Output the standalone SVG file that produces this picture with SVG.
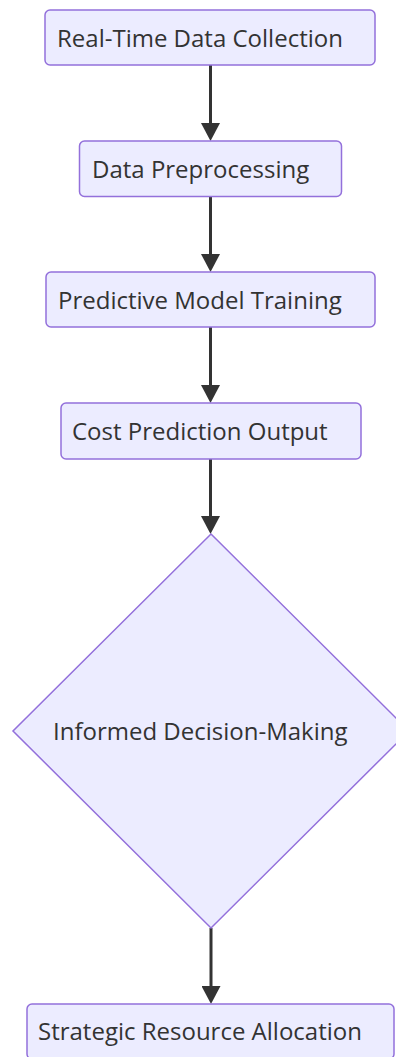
<svg xmlns="http://www.w3.org/2000/svg" width="396" height="1057" viewBox="0 0 396 1057">
<style>
.node{fill:#ECECFF;stroke:#9370DB;stroke-width:1.5}
.lbl{font-family:"Open Sans","Noto Sans",sans-serif;font-size:24px;fill:#333}
.edge{stroke:#333;stroke-width:3;fill:none}
</style>
<defs>
<marker id="arr" markerUnits="userSpaceOnUse" viewBox="0 0 18 19" refX="12" refY="9.5" markerWidth="18" markerHeight="19" orient="auto">
<path d="M0,0 L18,9.5 L0,19 z" fill="#333"/>
</marker>
</defs>
<rect width="396" height="1057" fill="#fff"/>
<g id="edges">
<path class="edge" d="M210.5,65 L210.5,135" marker-end="url(#arr)"/>
<path class="edge" d="M210.5,196.5 L210.5,266" marker-end="url(#arr)"/>
<path class="edge" d="M210.5,327 L210.5,397" marker-end="url(#arr)"/>
<path class="edge" d="M210.5,459 L210.5,528" marker-end="url(#arr)"/>
<path class="edge" d="M211,928 L211,998" marker-end="url(#arr)"/>
</g>
<g id="n1">
<rect class="node" x="45" y="10" width="330" height="55" rx="5"/>
<text class="lbl" x="57" y="46.5">Real-Time Data Collection</text>
</g>
<g id="n2">
<rect class="node" x="79.5" y="141" width="262" height="55.5" rx="5"/>
<text class="lbl" x="92" y="178">Data Preprocessing</text>
</g>
<g id="n3">
<rect class="node" x="46" y="272" width="329" height="55" rx="5"/>
<text class="lbl" x="58" y="309">Predictive Model Training</text>
</g>
<g id="n4">
<rect class="node" x="61" y="403" width="300" height="56" rx="5"/>
<text class="lbl" x="72" y="440">Cost Prediction Output</text>
</g>
<g id="n5">
<polygon class="node" points="211,534 409,731 211,928 13,731"/>
<text class="lbl" x="53" y="740">Informed Decision-Making</text>
</g>
<g id="n6">
<rect class="node" x="27" y="1004" width="367" height="55" rx="5"/>
<text class="lbl" x="38" y="1040">Strategic Resource Allocation</text>
</g>
</svg>
